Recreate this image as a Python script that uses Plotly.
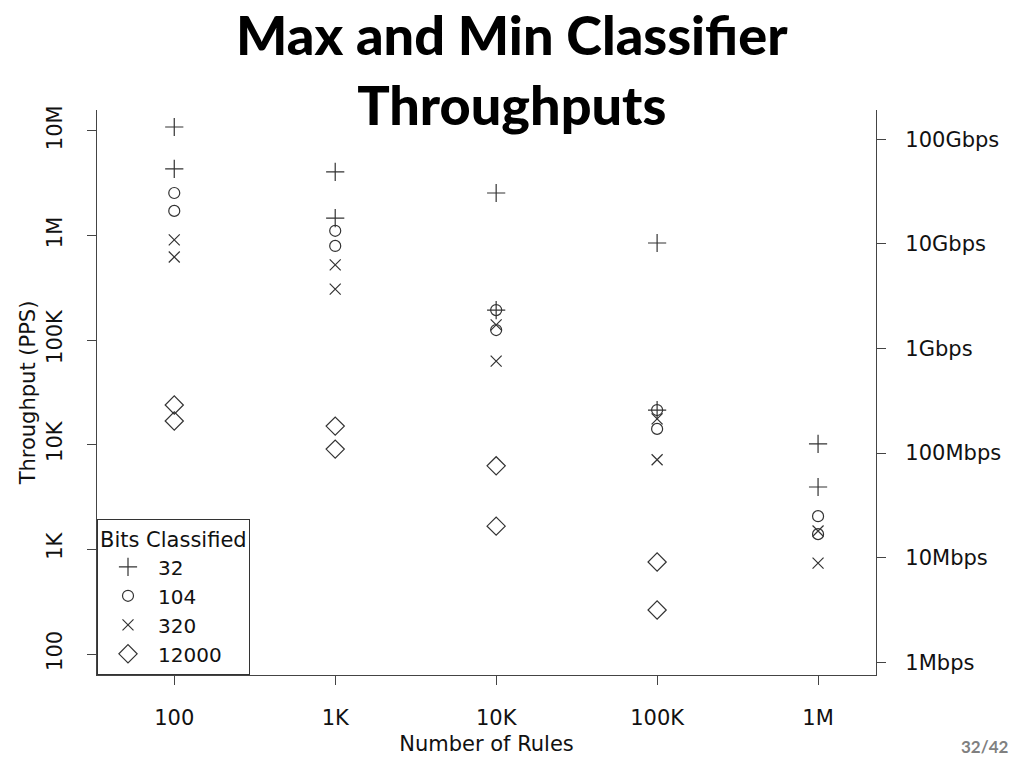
import math
import plotly.graph_objects as go

# ---- data ----
rules = [100, 1000, 10000, 100000, 1000000]
rule_labels = ["100", "1K", "10K", "100K", "1M"]

bits_32_max = [10.9e6, 4.06e6, 2.55e6, 849e3, 10.2e3]
bits_32_min = [4.34e6, 1.47e6, 194e3, 21.5e3, 3.95e3]
bits_104_max = [2.55e6, 1.11e6, 194e3, 21.5e3, 2.08e3]
bits_104_min = [1.72e6, 796e3, 125e3, 14.2e3, 1.40e3]
bits_320_max = [908e3, 524e3, 140e3, 17.7e3, 1.50e3]
bits_320_min = [624e3, 308e3, 63e3, 7.2e3, 741]
bits_12000_max = [24e3, 15.1e3, 6.3e3, 759, None]
bits_12000_min = [16.9e3, 9.1e3, 1.67e3, 264, None]

series_names = ["32", "104", "320", "12000"]
series_max = [bits_32_max, bits_104_max, bits_320_max, bits_12000_max]
series_min = [bits_32_min, bits_104_min, bits_320_min, bits_12000_min]

pps_ticks = [100, 1e3, 1e4, 1e5, 1e6, 1e7]
pps_labels = ["100", "1K", "10K", "100K", "1M", "10M"]
bps_ticks = [1e6, 1e7, 1e8, 1e9, 1e10, 1e11]
bps_labels = ["1Mbps", "10Mbps", "100Mbps", "1Gbps", "10Gbps", "100Gbps"]
bits_per_packet = 12000

title_text = "Max and Min Classifier<br>Throughputs"
page_label = "32/42"

# ---- styles ----
symbols = ["cross-thin-open", "circle-open", "x-thin-open", "diamond-open"]
sizes = [13, 11, 11, 14]
mcolor = "#333333"
FONT = "DejaVu Sans"
FS = 21

W, H = 1024, 768
ML, MR, MT, MB = 97, 148, 110, 93


def px_to_paper_x(px):
    return (px - ML) / (W - ML - MR)


def px_to_paper_y(py):
    return (H - MB - py) / (H - MT - MB)


fig = go.Figure()
for name, mx, mn, sym, sz in zip(series_names, series_max, series_min, symbols, sizes):
    xs, ys = [], []
    for r, a, b in zip(rules, mx, mn):
        for v in (a, b):
            if v is not None:
                xs.append(r)
                ys.append(v)
    fig.add_trace(go.Scatter(
        x=xs, y=ys, mode="markers", name=name,
        marker=dict(symbol=sym, size=sz, color=mcolor,
                    line=dict(width=1.2, color=mcolor)),
    ))

# right axis carrier (no visible marks)
fig.add_trace(go.Scatter(x=[], y=[], yaxis="y2", showlegend=False, hoverinfo="skip"))

ylo, yhi = 1.8, 7.2
off = math.log10(bits_per_packet)

axis_common = dict(
    showgrid=False, zeroline=False, showline=True, linecolor="#444444", linewidth=1.3,
    ticks="outside", ticklen=9, tickwidth=1.2, tickcolor="#444444",
    tickfont=dict(family=FONT, size=FS, color="#111111"),
)

title_font = dict(family="Lato", size=54, color="black", weight=900)

fig.update_layout(
    width=W, height=H,
    paper_bgcolor="white", plot_bgcolor="white",
    margin=dict(l=ML, r=MR, t=MT, b=MB, autoexpand=False),
    xaxis=dict(
        type="log", range=[1.52, 6.36],
        tickvals=rules, ticktext=rule_labels, ticklabelstandoff=15,
        title=dict(text="Number of Rules", font=dict(family=FONT, size=FS, color="#111111"), standoff=6),
        **axis_common,
    ),
    yaxis=dict(
        type="log", range=[ylo, yhi],
        tickvals=pps_ticks, ticktext=pps_labels, tickangle=-90, ticklabelstandoff=16,
        title=dict(text="Throughput (PPS)", font=dict(family=FONT, size=FS, color="#111111"), standoff=2),
        **axis_common,
    ),
    yaxis2=dict(
        type="log", range=[ylo + off, yhi + off], overlaying="y", side="right",
        tickvals=bps_ticks, ticktext=bps_labels, ticklabelstandoff=15,
        **axis_common,
    ),
    legend=dict(
        x=0, y=0, xanchor="left", yanchor="bottom",
        bgcolor="white", bordercolor="#333333", borderwidth=1,
        title=dict(text="Bits Classified", font=dict(family=FONT, size=FS, color="#111111")),
        font=dict(family=FONT, size=20, color="#111111"),
        itemwidth=50, tracegroupgap=0,
    ),
    showlegend=True,
    annotations=[
        dict(text=title_text, x=px_to_paper_x(512), y=px_to_paper_y(0),
             xref="paper", yref="paper", xanchor="center", yanchor="top",
             showarrow=False, font=title_font),
        dict(text="<b>" + page_label + "</b>", x=px_to_paper_x(985), y=px_to_paper_y(746),
             xref="paper", yref="paper", xanchor="center", yanchor="middle",
             showarrow=False, font=dict(family="Lato", size=17, color="#808080")),
    ],
)

fig.write_html(
    "out.html",
    config={"displayModeBar": False},
    post_script="document.body.style.margin='0px';document.body.style.overflow='hidden';",
)
